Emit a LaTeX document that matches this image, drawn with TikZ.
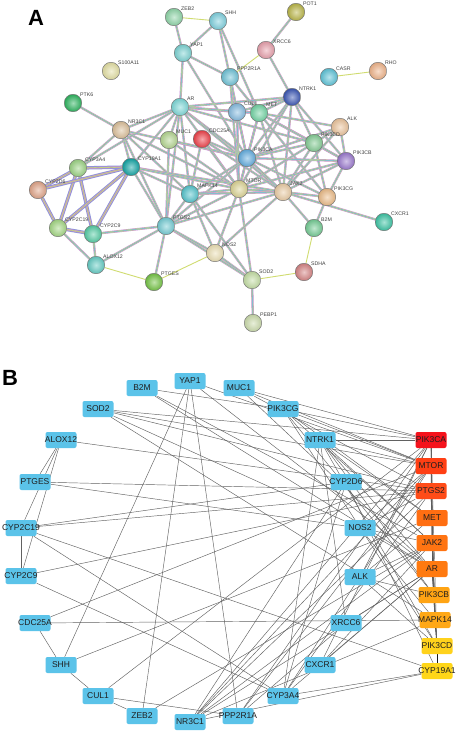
\documentclass[tikz,border=0pt]{standalone}
\usepackage{fontspec}
\setmainfont{Liberation Sans}
\pgfdeclarelayer{bgw}
\pgfdeclarelayer{edges}
\pgfsetlayers{bgw,edges,main}
\definecolor{bblue}{HTML}{5BC3E9}
\definecolor{sviolet}{HTML}{C68ADC}
\definecolor{sygreen}{HTML}{D8E470}
\definecolor{scyan}{HTML}{78D2EA}
\definecolor{scyp}{HTML}{8A94D8}
\definecolor{syel}{HTML}{D0DC70}
\definecolor{hPIK3CA}{HTML}{F5121C}
\definecolor{hMTOR}{HTML}{FF3F14}
\definecolor{hPTGS2}{HTML}{FF4C18}
\definecolor{hMET}{HTML}{FF6E12}
\definecolor{hJAK2}{HTML}{FF7412}
\definecolor{hAR}{HTML}{FF7A10}
\definecolor{hPIK3CB}{HTML}{FFA414}
\definecolor{hMAPK14}{HTML}{FFA816}
\definecolor{hPIK3CD}{HTML}{FFD21C}
\definecolor{hCYP19A1}{HTML}{FFD618}
\newcommand\Anode[4]{%
  \definecolor{ac#1}{HTML}{#4}%
  \node[sphere=ac#1] (a#1) at (#2,#3) {};
  \node[alab] (la#1) at ([xshift=7pt,yshift=8pt]a#1.center) {#1};}
\newcommand\Bnode[4]{%
  \node[bbox, fill=#4] (b#1) at (#2,#3) {\makebox[0pt]{#1}};}
\begin{document}
\begin{tikzpicture}[x=1pt,y=-1pt,
  sphere/.style={circle, minimum size=17.5pt, inner sep=0pt, draw=black!55, line width=0.45pt, inner color=#1!45!white, outer color=#1!92!black},
  alab/.style={anchor=west, inner sep=0pt, font=\fontsize{5.2}{6}\selectfont, text=black!75},
  aedge/.style={line width=0.25pt, draw=black!40,
     preaction={draw=sviolet, line width=2.3pt},
     preaction={draw=sygreen, line width=1.4pt},
     preaction={draw=scyan, line width=0.75pt}},
  cypedge/.style={line width=0.3pt, draw=black!35,
     preaction={draw=scyp, line width=3.4pt},
     preaction={draw=sviolet, line width=1.8pt},
     preaction={draw=sygreen, line width=0.9pt}},
  yedge/.style={draw=syel, line width=0.9pt},
  bbox/.style={rectangle, rounded corners=2pt, minimum width=31pt, minimum height=16pt, inner sep=0pt, font=\fontsize{8.5}{10}\selectfont, text=black!88},
  bedge/.style={draw=black!62, line width=0.45pt},
  hedge/.style={draw=black!90, line width=0.8pt},
  letter/.style={font=\fontsize{22}{22}\selectfont\bfseries, inner sep=0pt}
]
\useasboundingbox (0,0) rectangle (457,734);
\begin{pgfonlayer}{bgw}
\fill[white] (0,0) rectangle (457,734);
\end{pgfonlayer}

% ---------------- Panel A ----------------
\node[letter] (lettA) at (36,18) {A};
\Anode{ZEB2}{174}{17}{8FD6A8}
\Anode{SHH}{218}{21}{7ED0DE}
\Anode{YAP1}{183}{53}{7CD3D3}
\Anode{S100A11}{111}{71}{E4E0A4}
\Anode{PTK6}{73}{103}{2DB45E}
\Anode{AR}{180}{107}{7DD8D8}
\Anode{NR3C1}{121}{130}{DCC09A}
\Anode{MUC1}{169}{140}{B4D690}
\Anode{CDC25A}{202}{139}{EE4048}
\Anode{PPP2R1A}{230}{77}{6EC2D6}
\Anode{POT1}{296}{12}{BAB648}
\Anode{XRCC6}{266}{50}{E8A0AC}
\Anode{CASR}{329}{77}{5EC4D8}
\Anode{RHO}{378}{71}{F0B48A}
\Anode{NTRK1}{292}{97}{3A56B4}
\Anode{CUL1}{237}{112}{86BCE0}
\Anode{MET}{259}{113}{72D4A4}
\Anode{ALK}{340}{127}{ECC49C}
\Anode{PIK3CD}{314}{143}{84CC94}
\Anode{PIK3CA}{247}{158}{64AEE0}
\Anode{PIK3CB}{346}{161}{9A78CE}
\Anode{MTOR}{239}{189}{DCD494}
\Anode{JAK2}{283}{192}{EACCA4}
\Anode{PIK3CG}{327}{197}{ECBC88}
\Anode{CXCR1}{384}{222}{3CC4A4}
\Anode{B2M}{314}{228}{74CC94}
\Anode{NOS2}{215}{253}{ECE0B4}
\Anode{SDHA}{304}{272}{D68484}
\Anode{SOD2}{252}{280}{C4DEA4}
\Anode{PEBP1}{253}{323}{CCDCAC}
\Anode{CYP3A4}{78}{168}{9CD484}
\Anode{CYP19A1}{131}{167}{12A4A4}
\Anode{CYP2D6}{38}{190}{E0A488}
\Anode{MAPK14}{190}{194}{54C4CC}
\Anode{CYP2C19}{58}{228}{A4D884}
\Anode{CYP2C9}{93}{234}{54CCA4}
\Anode{PTGS2}{166}{226}{74CCD4}
\Anode{ALOX12}{96}{265}{64CCC4}
\Anode{PTGES}{154}{282}{74C444}

\begin{pgfonlayer}{edges}
\foreach \u/\v in {ZEB2/YAP1, SHH/YAP1, SHH/PPP2R1A, YAP1/PPP2R1A, YAP1/AR, YAP1/PIK3CA, SHH/MET,
  POT1/XRCC6, XRCC6/NTRK1, PTK6/NR3C1,
  AR/NR3C1, AR/MUC1, AR/PIK3CA, AR/CUL1, AR/MET, AR/NTRK1, AR/MTOR, AR/JAK2, AR/PTGS2, AR/MAPK14, AR/CYP19A1, AR/CYP3A4, AR/PIK3CD,
  NR3C1/CYP3A4, NR3C1/CYP19A1, NR3C1/PTGS2, NR3C1/MAPK14, NR3C1/PIK3CA, NR3C1/MTOR,
  MUC1/PIK3CA, MUC1/MTOR, MUC1/PTGS2,
  CDC25A/PIK3CA, CDC25A/MAPK14, CDC25A/MTOR, CDC25A/JAK2,
  PPP2R1A/CUL1, PPP2R1A/PIK3CA, PPP2R1A/MTOR, PPP2R1A/MET,
  NTRK1/PIK3CA, NTRK1/PIK3CD, NTRK1/PIK3CB, NTRK1/JAK2, NTRK1/MET, NTRK1/CUL1, NTRK1/MTOR,
  CUL1/MET, CUL1/PIK3CA, CUL1/MTOR,
  MET/PIK3CA, MET/PIK3CD, MET/JAK2, MET/MTOR, MET/PIK3CB, MET/ALK, MET/PIK3CG,
  ALK/PIK3CA, ALK/PIK3CD, ALK/JAK2, ALK/PIK3CB,
  PIK3CD/PIK3CB, PIK3CD/PIK3CA, PIK3CD/JAK2, PIK3CD/PIK3CG, PIK3CD/MTOR,
  PIK3CB/PIK3CA, PIK3CB/PIK3CG, PIK3CB/JAK2, PIK3CB/MTOR,
  PIK3CA/MTOR, PIK3CA/JAK2, PIK3CA/PIK3CG, PIK3CA/MAPK14, PIK3CA/PTGS2,
  MTOR/JAK2, MTOR/MAPK14, MTOR/PTGS2, MTOR/SOD2, MTOR/NOS2,
  JAK2/PIK3CG, JAK2/B2M, JAK2/CXCR1, JAK2/MAPK14, JAK2/NOS2, JAK2/PTGS2,
  PIK3CG/B2M, SOD2/PEBP1, SOD2/NOS2, SOD2/PTGS2, SOD2/MAPK14,
  NOS2/PTGS2, NOS2/MAPK14,
  PTGS2/PTGES, PTGS2/ALOX12, PTGS2/CYP2C9, PTGS2/CYP19A1, PTGS2/MAPK14,
  ALOX12/CYP2C9, ALOX12/CYP2C19,
  CYP19A1/MAPK14, CYP19A1/JAK2, CYP19A1/MTOR}
  {\draw[aedge] (a\u) -- (a\v);}
\foreach \u/\v in {ZEB2/SHH, B2M/SDHA, SDHA/SOD2, PTGES/ALOX12, PTGES/NOS2, CASR/RHO, XRCC6/PPP2R1A}
  {\draw[yedge] (a\u) -- (a\v);}
\foreach \u/\v in {CYP3A4/CYP19A1, CYP3A4/CYP2D6, CYP3A4/CYP2C19, CYP3A4/CYP2C9, CYP2D6/CYP19A1, CYP2D6/CYP2C19, CYP2C19/CYP2C9, CYP2C19/CYP19A1, CYP2C9/CYP19A1}
  {\draw[cypedge] (a\u) -- (a\v);}
\end{pgfonlayer}

% ---------------- Panel B ----------------
\node[letter] (lettB) at (10,378) {B};
\Bnode{B2M}{142}{388}{bblue}
\Bnode{YAP1}{190}{381}{bblue}
\Bnode{MUC1}{239}{388}{bblue}
\Bnode{SOD2}{98}{409}{bblue}
\Bnode{PIK3CG}{283}{409}{bblue}
\Bnode{ALOX12}{61}{440}{bblue}
\Bnode{NTRK1}{320}{440}{bblue}
\Bnode{PTGES}{35}{482}{bblue}
\Bnode{CYP2D6}{346}{482}{bblue}
\Bnode{CYP2C19}{21}{528}{bblue}
\Bnode{NOS2}{360}{528}{bblue}
\Bnode{CYP2C9}{21}{576}{bblue}
\Bnode{ALK}{360}{577}{bblue}
\Bnode{CDC25A}{35}{623}{bblue}
\Bnode{XRCC6}{346}{623}{bblue}
\Bnode{SHH}{61}{665}{bblue}
\Bnode{CXCR1}{320}{665}{bblue}
\Bnode{CUL1}{98}{696}{bblue}
\Bnode{CYP3A4}{283}{696}{bblue}
\Bnode{ZEB2}{142}{716}{bblue}
\Bnode{PPP2R1A}{238}{716}{bblue}
\Bnode{NR3C1}{190}{722}{bblue}
\Bnode{PIK3CA}{431}{440}{hPIK3CA}
\Bnode{MTOR}{431}{466}{hMTOR}
\Bnode{PTGS2}{431}{491}{hPTGS2}
\Bnode{MET}{432}{518}{hMET}
\Bnode{JAK2}{432}{543}{hJAK2}
\Bnode{AR}{432}{569}{hAR}
\Bnode{PIK3CB}{434}{595}{hPIK3CB}
\Bnode{MAPK14}{435}{620}{hMAPK14}
\Bnode{PIK3CD}{437}{646}{hPIK3CD}
\Bnode{CYP19A1}{437}{671}{hCYP19A1}

\begin{pgfonlayer}{edges}
\foreach \u/\v in {PIK3CA/MTOR, MTOR/PTGS2, PTGS2/MET, MET/JAK2, JAK2/AR, AR/PIK3CB, PIK3CB/MAPK14, MAPK14/PIK3CD, PIK3CD/CYP19A1}
  {\draw[hedge] (b\u) -- (b\v);}
\foreach \u/\v in {PIK3CA/PTGS2, PIK3CA/MET, PIK3CA/JAK2, PIK3CA/PIK3CB, PIK3CA/PIK3CD,
  MTOR/JAK2, MTOR/MAPK14, PTGS2/MAPK14, MET/PIK3CB,
  JAK2/PIK3CB, JAK2/PIK3CD, AR/MAPK14, PIK3CB/PIK3CD,
  B2M/PIK3CG, B2M/JAK2, B2M/AR,
  YAP1/SHH, YAP1/ZEB2, YAP1/PPP2R1A, YAP1/MTOR, YAP1/AR,
  MUC1/PIK3CA, MUC1/MTOR, MUC1/AR, MUC1/PTGS2,
  SOD2/PIK3CA, SOD2/MTOR, SOD2/PTGS2, SOD2/NOS2, SOD2/MAPK14,
  PIK3CG/PIK3CA, PIK3CG/MTOR, PIK3CG/JAK2, PIK3CG/PIK3CB, PIK3CG/PIK3CD, PIK3CG/MET,
  ALOX12/PTGS2, ALOX12/PTGES, ALOX12/CYP2C19, ALOX12/CYP2C9,
  NTRK1/PIK3CA, NTRK1/MTOR, NTRK1/MET, NTRK1/JAK2, NTRK1/AR, NTRK1/PIK3CB, NTRK1/PIK3CD, NTRK1/XRCC6, NTRK1/CYP3A4,
  PTGES/PTGS2, PTGES/NOS2,
  CYP2D6/CYP2C19, CYP2D6/CYP3A4, CYP2D6/CYP19A1, CYP2D6/NR3C1,
  CYP2C19/CYP2C9, CYP2C19/CYP3A4, CYP2C19/CYP19A1, CYP2C19/PTGS2,
  CYP2C9/PTGS2, CYP2C9/CYP3A4,
  NOS2/MTOR, NOS2/JAK2, NOS2/PTGS2, NOS2/MAPK14, NOS2/AR,
  ALK/PIK3CA, ALK/MET, ALK/JAK2, ALK/PIK3CB, ALK/PIK3CD,
  CDC25A/MTOR, CDC25A/MAPK14, CDC25A/SHH,
  XRCC6/AR, XRCC6/PPP2R1A,
  SHH/CUL1, SHH/MET,
  CXCR1/JAK2, CXCR1/AR, CXCR1/PIK3CA,
  CUL1/PPP2R1A, CUL1/PIK3CA, CUL1/ZEB2,
  CYP3A4/CYP19A1, CYP3A4/AR, CYP3A4/PTGS2, CYP3A4/MTOR,
  ZEB2/JAK2,
  NR3C1/PIK3CA, NR3C1/MTOR, NR3C1/PTGS2, NR3C1/JAK2, NR3C1/AR, NR3C1/MAPK14, NR3C1/CYP19A1,
  PPP2R1A/PIK3CA, PPP2R1A/MTOR}
  {\draw[bedge] (b\u) -- (b\v);}
\end{pgfonlayer}
\end{tikzpicture}
\end{document}
